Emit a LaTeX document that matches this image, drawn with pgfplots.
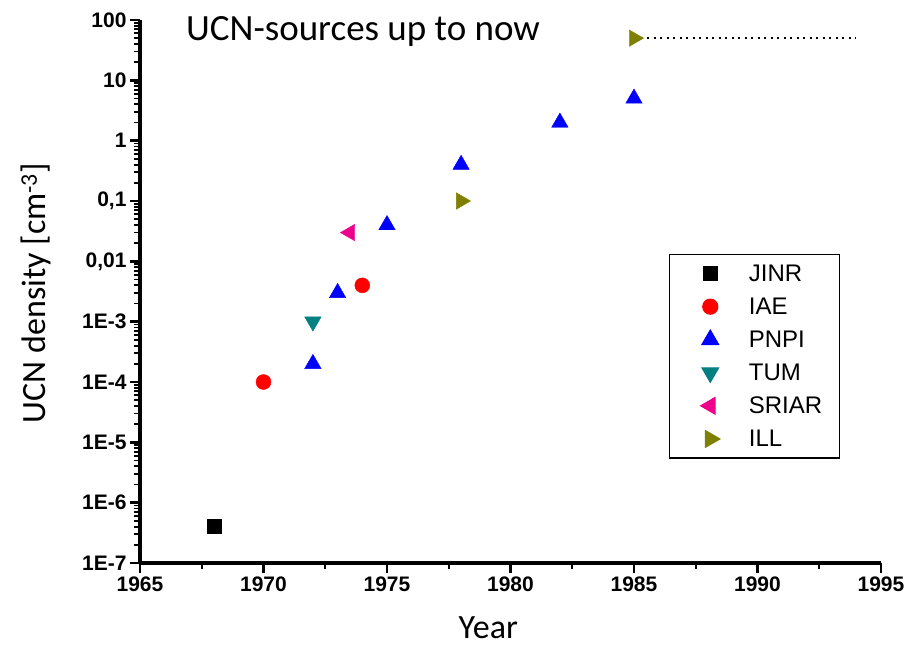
\documentclass[border=0pt]{standalone}
\usepackage{pgfplots}
\pgfplotsset{compat=1.18}
\usepackage{fontspec}
\setmainfont{Carlito}
\newfontfamily\arialf{Liberation Sans}
\definecolor{tumteal}{RGB}{0,128,128}
\definecolor{illolive}{RGB}{128,128,0}
\pgfplotsset{mylegend/.style={legend image code/.code={%
  \path (-23pt,-10pt) (38pt,10pt);
  \draw[##1] plot coordinates {(0pt,0pt)};}}}
\begin{document}
\begin{tikzpicture}
\begin{axis}[
  scale only axis, width=741pt, height=543pt,
  xmin=1965, xmax=1995, ymode=log, ymin=1e-7, ymax=100,
  clip=false,
  axis x line*=bottom, axis y line*=left,
  x axis line style={line width=4pt, black},
  y axis line style={line width=4pt, black},
  xtick={1965,1970,1975,1980,1985,1990,1995},
  xticklabels={1965,1970,1975,1980,1985,1990,1995},
  minor xtick={1967.5,1972.5,1977.5,1982.5,1987.5,1992.5},
  ytick={1e-7,1e-6,1e-5,1e-4,1e-3,0.01,0.1,1,10,100},
  yticklabels={1E-7,1E-6,1E-5,1E-4,1E-3,{0,01},{0,1},1,10,100},
  minor ytick={2e-7,3e-7,4e-7,5e-7,6e-7,7e-7,8e-7,9e-7,
    2e-6,3e-6,4e-6,5e-6,6e-6,7e-6,8e-6,9e-6,
    2e-5,3e-5,4e-5,5e-5,6e-5,7e-5,8e-5,9e-5,
    2e-4,3e-4,4e-4,5e-4,6e-4,7e-4,8e-4,9e-4,
    2e-3,3e-3,4e-3,5e-3,6e-3,7e-3,8e-3,9e-3,
    0.02,0.03,0.04,0.05,0.06,0.07,0.08,0.09,
    0.2,0.3,0.4,0.5,0.6,0.7,0.8,0.9,
    2,3,4,5,6,7,8,9,20,30,40,50,60,70,80,90},
  tick label style={font=\arialf\bfseries\fontsize{21}{21}\selectfont},
  /pgf/number format/assume math mode=true,
  tick align=outside, major tick length=10pt, minor tick length=6pt,
  major tick style={line width=2.5pt, black},
  minor tick style={line width=1.8pt, black},
  xlabel={Year},
  ylabel={UCN density [cm\textsuperscript{-3}]},
  label style={font=\fontsize{34}{34}\selectfont, inner sep=0pt},
  xlabel style={at={(axis description cs:0.470,-0.119)}, anchor=center},
  ylabel style={at={(axis description cs:-0.140,0.497)}, anchor=center},
  legend style={at={(axis description cs:0.714,0.569)}, anchor=north west,
    draw=black, line width=1.2pt, font=\arialf\fontsize{24}{24}\selectfont,
    inner xsep=17pt, inner ysep=8pt, row sep=11pt,
    nodes={inner xsep=0pt}},
  legend cell align=left,
]
\addplot[only marks, mark=square*, mark size=7pt, black, mark options={draw=none, fill=black}, mylegend]
  coordinates {(1968,4e-7)};
\addlegendentry{JINR}
\addplot[only marks, mark=*, mark size=7.5pt, red, mark options={draw=none, fill=red}, mylegend]
  coordinates {(1970,1e-4) (1974,4e-3)};
\addlegendentry{IAE}
\addplot[only marks, mark=triangle*, mark size=9.5pt, blue, mark options={draw=none, fill=blue}, mylegend]
  coordinates {(1972,2e-4) (1973,3e-3) (1975,0.04) (1978,0.4) (1982,2) (1985,5)};
\addlegendentry{PNPI}
\addplot[only marks, mark=triangle*, mark size=9.5pt, tumteal, mark options={draw=none, fill=tumteal, rotate=180}, mylegend]
  coordinates {(1972,1e-3)};
\addlegendentry{TUM}
\addplot[only marks, mark=triangle*, mark size=9.5pt, magenta, mark options={draw=none, fill=magenta, rotate=90}, mylegend]
  coordinates {(1973.5,0.03)};
\addlegendentry{SRIAR}
\addplot[black, line width=2pt, dash pattern=on 2pt off 4.5pt, forget plot] coordinates {(1985,50) (1994,50)};
\addplot[only marks, mark=triangle*, mark size=9.5pt, illolive, mark options={draw=none, fill=illolive, rotate=-90}, mylegend]
  coordinates {(1978,0.1) (1985,50)};
\addlegendentry{ILL}
\node[anchor=base west, inner sep=0pt, font=\fontsize{37}{37}\selectfont] at (axis description cs:0.062,0.963) {UCN-sources up to now};
\coordinate (bbsw) at (rel axis cs:-0.18893,-0.15654);
\coordinate (bbne) at (rel axis cs:1.03239,1.03683);
\end{axis}
\pgfresetboundingbox
\useasboundingbox (bbsw) rectangle (bbne);
\end{tikzpicture}
\end{document}
